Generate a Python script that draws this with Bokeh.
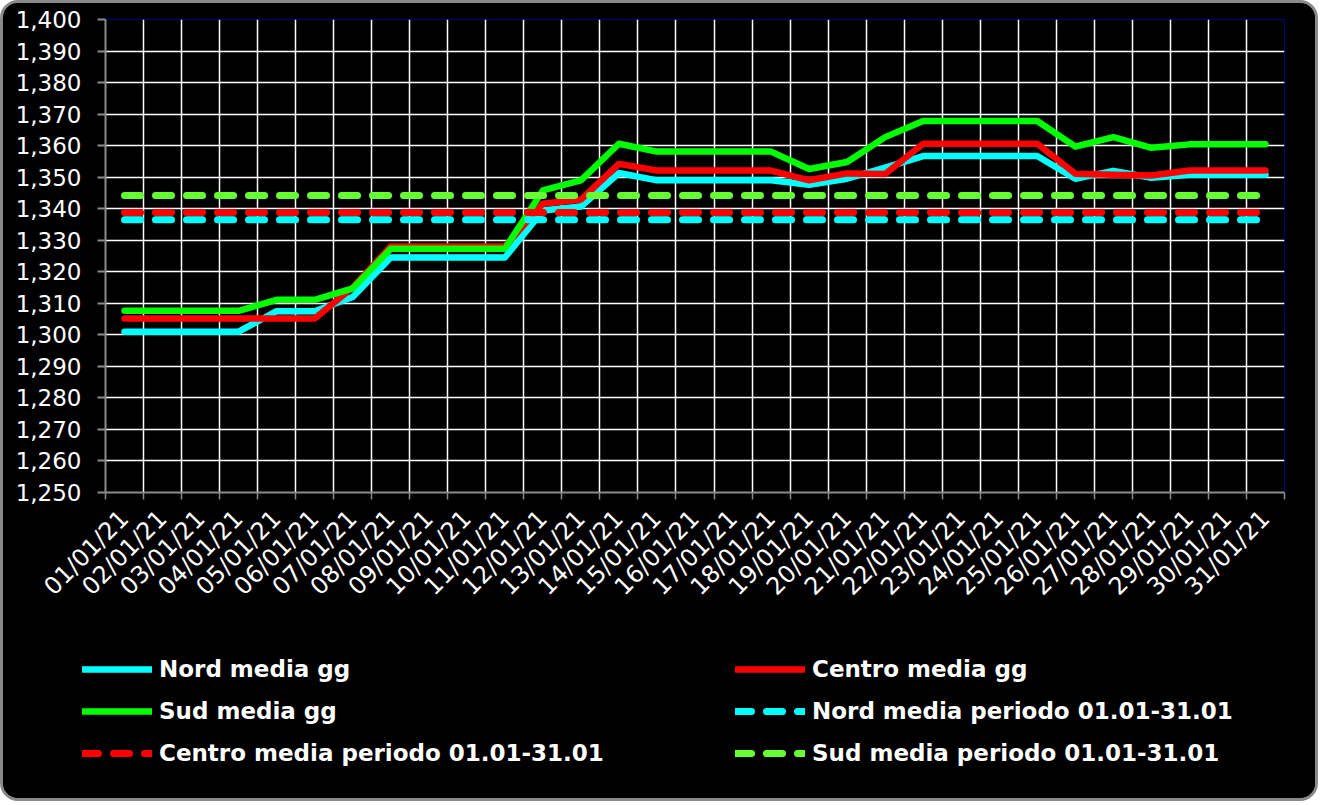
import math
from bokeh.plotting import figure
from bokeh.layouts import column
from bokeh.models import Range1d, FixedTicker, NumeralTickFormatter, Legend, LegendItem, ColumnDataSource
from bokeh.embed import file_html
from bokeh.resources import INLINE

dates = ["01/01/21", "02/01/21", "03/01/21", "04/01/21", "05/01/21", "06/01/21", "07/01/21",
         "08/01/21", "09/01/21", "10/01/21", "11/01/21", "12/01/21", "13/01/21", "14/01/21",
         "15/01/21", "16/01/21", "17/01/21", "18/01/21", "19/01/21", "20/01/21", "21/01/21",
         "22/01/21", "23/01/21", "24/01/21", "25/01/21", "26/01/21", "27/01/21", "28/01/21",
         "29/01/21", "30/01/21", "31/01/21"]

nord = [1301.0, 1301.0, 1301.0, 1301.0, 1307.5, 1307.5, 1312.0, 1324.5, 1324.5, 1324.5, 1324.5,
        1339.4, 1340.7, 1351.3, 1349.0, 1349.0, 1349.0, 1349.0, 1347.6, 1349.5, 1353.0, 1356.7,
        1356.7, 1356.7, 1356.7, 1349.5, 1352.0, 1349.8, 1350.8, 1350.8, 1350.8]
centro = [1305.2, 1305.2, 1305.2, 1305.2, 1305.2, 1305.2, 1315.0, 1328.0, 1328.0, 1328.0, 1328.0,
          1341.6, 1342.9, 1354.2, 1352.1, 1352.1, 1352.1, 1352.1, 1349.0, 1351.2, 1351.0, 1360.6,
          1360.6, 1360.6, 1360.6, 1351.1, 1350.8, 1350.5, 1352.1, 1352.1, 1352.1]
sud = [1307.6, 1307.6, 1307.6, 1307.6, 1311.1, 1311.1, 1314.7, 1327.3, 1327.3, 1327.3, 1327.3,
       1345.8, 1349.0, 1360.6, 1358.1, 1358.1, 1358.1, 1358.1, 1352.6, 1354.8, 1362.7, 1367.8,
       1367.8, 1367.8, 1367.8, 1359.7, 1362.7, 1359.3, 1360.4, 1360.4, 1360.4]

nord_periodo = 1336.5
centro_periodo = 1338.8
sud_periodo = 1344.2

y_ticks = [1250, 1260, 1270, 1280, 1290, 1300, 1310, 1320, 1330, 1340, 1350, 1360, 1370, 1380, 1390, 1400]

idx = list(range(1, len(dates) + 1))
boundaries = [i + 0.5 for i in range(0, len(dates) + 1)]

src = ColumnDataSource(dict(
    x=idx, nord=nord, centro=centro, sud=sud,
    nord_p=[nord_periodo] * len(dates),
    centro_p=[centro_periodo] * len(dates),
    sud_p=[sud_periodo] * len(dates),
))

SERIES = [
    ("nord", "Nord media gg", "#00FFFF", 6.5, None),
    ("centro", "Centro media gg", "#FF0000", 6.5, None),
    ("sud", "Sud media gg", "#00FF00", 6.5, None),
    ("nord_p", "Nord media periodo 01.01-31.01", "#00FFFF", 7, "16 15"),
    ("centro_p", "Centro media periodo 01.01-31.01", "#FF0000", 7, "16 15"),
    ("sud_p", "Sud media periodo 01.01-31.01", "#66FF33", 7, "16 15"),
]


def add_lines(fig):
    rs = {}
    for col, label, color, w, dash in SERIES:
        kw = dict(line_color=color, line_width=w, line_cap="round", line_join="round")
        if dash:
            kw["line_dash"] = dash
        rs[col] = fig.line("x", col, source=src, **kw)
    return rs


W = 1312
H_MAIN = 627
H_LEG = 168

p = figure(width=W, height=H_MAIN, output_backend="svg", toolbar_location=None,
           x_range=Range1d(0.5, len(dates) + 0.5), y_range=Range1d(1250, 1400),
           min_border_left=102, min_border_right=31, min_border_top=16, min_border_bottom=138,
           background_fill_color="black", border_fill_color="black")
p.frame_align = False
p.outline_line_color = "#000080"
p.outline_line_width = 1

p.xgrid.ticker = FixedTicker(ticks=boundaries)
p.ygrid.ticker = FixedTicker(ticks=y_ticks)
for g in (p.xgrid, p.ygrid):
    g.grid_line_color = "white"
    g.grid_line_width = 1.5

xa = p.xaxis[0]
xa.ticker = FixedTicker(ticks=idx, minor_ticks=boundaries)
xa.major_label_overrides = {i: d for i, d in zip(idx, dates)}
xa.major_label_orientation = math.pi / 4
xa.major_tick_line_color = None
xa.major_tick_out = 0
xa.major_tick_in = 0
xa.minor_tick_line_color = "#8c8c8c"
xa.minor_tick_line_width = 1.5
xa.minor_tick_out = 7
xa.minor_tick_in = 0
xa.axis_line_color = "#8c8c8c"
xa.axis_line_width = 2
xa.major_label_text_color = "white"
xa.major_label_text_font = "DejaVu Sans"
xa.major_label_text_font_size = "24px"
xa.major_label_standoff = 15

ya = p.yaxis[0]
ya.ticker = FixedTicker(ticks=y_ticks)
ya.formatter = NumeralTickFormatter(format="0,0")
ya.minor_tick_line_color = None
ya.major_tick_line_color = "#8c8c8c"
ya.major_tick_line_width = 2
ya.major_tick_out = 8
ya.major_tick_in = 0
ya.axis_line_color = "#8c8c8c"
ya.axis_line_width = 2
ya.major_label_text_color = "white"
ya.major_label_text_font = "DejaVu Sans"
ya.major_label_text_font_size = "23px"
ya.major_label_standoff = 16

add_lines(p)

# legend panel: same series, drawn out of view; only the legend shows
q = figure(width=W, height=H_LEG, output_backend="svg", toolbar_location=None,
           x_range=Range1d(0.5, len(dates) + 0.5), y_range=Range1d(0, 1),
           x_axis_type=None, y_axis_type=None,
           min_border_left=0, min_border_right=0, min_border_top=0, min_border_bottom=0,
           background_fill_color="black", border_fill_color="black")
q.frame_align = False
q.outline_line_color = None
q.grid.visible = False
rq = add_lines(q)
labels = {col: label for col, label, _, _, _ in SERIES}


def make_legend(cols, x):
    lg = Legend(items=[LegendItem(label=labels[c], renderers=[rq[c]]) for c in cols],
                location=(x, 32), orientation="vertical")
    lg.background_fill_alpha = 0
    lg.border_line_color = None
    lg.padding = 0
    lg.margin = 0
    lg.spacing = 16
    lg.glyph_width = 70
    lg.glyph_height = 20
    lg.label_height = 20
    lg.label_standoff = 7
    lg.label_text_color = "white"
    lg.label_text_font = "DejaVu Sans"
    lg.label_text_font_style = "bold"
    lg.label_text_font_size = "23px"
    return lg


q.add_layout(make_legend(["nord", "sud", "centro_p"], 79))
q.add_layout(make_legend(["centro", "nord_p", "sud_p"], 732))

layout = column(p, q, spacing=0,
                styles={"border": "3px solid #8a8a8a", "border-radius": "18px",
                        "overflow": "hidden", "background-color": "black"})

open("out.html", "w").write(file_html(layout, INLINE))
